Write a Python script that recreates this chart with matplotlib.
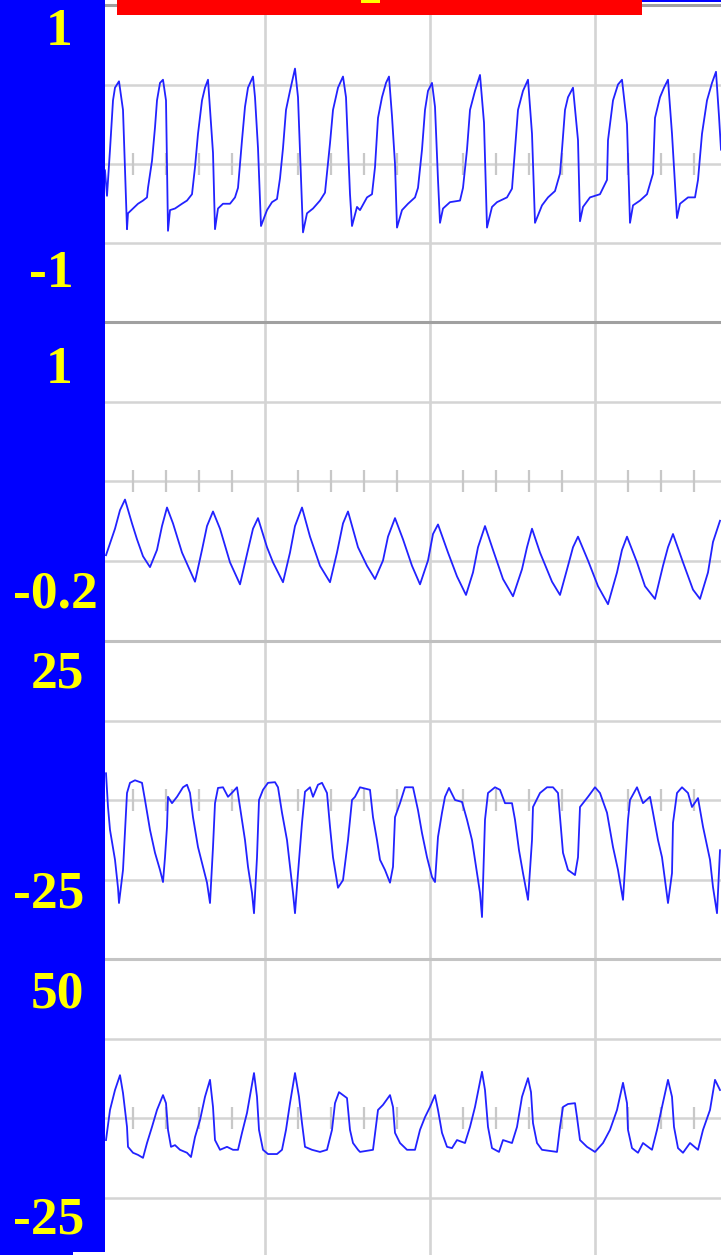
import matplotlib

matplotlib.use("Agg")

import matplotlib.pyplot as plt
from matplotlib.lines import Line2D
from matplotlib.patches import Rectangle


OUTPUT_PATH = "out.png"

FIG_W = 721
FIG_H = 1255

# time axis is in samples: major grid every 165, minor ticks every 33
T_LIMITS = (5, 621)
T_MAJOR = [165, 330, 495]

PANEL_LIMITS = [(-1, 1), (-0.2, 1), (-25, 25), (-25, 50)]
TOP_LABELS = ["1", "1", "25", "50"]
BOTTOM_LABELS = ["-1", "-0.2", "-25", "-25"]

# channel 1
T1 = [5, 7, 10, 13, 15, 19, 23, 27,
      28, 33, 38, 43, 47, 48, 52, 55, 57, 60, 63, 66, 68,
      70, 75, 82, 87, 92, 95, 98, 102, 105, 108, 113, 115,
      118, 123, 130, 135, 138, 142, 145, 148, 153, 155, 158, 161,
      167, 172, 177, 180, 183, 186, 190, 195, 198, 203,
      207, 213, 220, 225, 230, 233, 238, 243, 246, 250, 252,
      257, 260, 267, 272, 275, 278, 282, 286, 289, 292, 295, 297,
      302, 308, 315, 318, 322, 325, 328, 332, 335, 338, 340,
      343, 350, 360, 363, 367, 370, 375, 380, 384, 387,
      392, 397, 407, 412, 415, 418, 423, 428, 432, 435,
      442, 448, 455, 460, 462, 465, 468, 473, 478, 480,
      483, 490, 500, 507, 508, 513, 518, 522, 527, 530,
      533, 540, 547, 553, 555, 560, 564, 568, 572, 577,
      580, 588, 595, 598, 602, 607, 612, 616, 619, 621]
V1 = [-0.04, -0.20, 0.09, 0.40, 0.48, 0.52, 0.34, -0.41,
      -0.31, -0.28, -0.25, -0.23, -0.21, -0.15, 0.02, 0.23, 0.40, 0.51, 0.53, 0.40, -0.42,
      -0.29, -0.28, -0.25, -0.23, -0.19, -0.02, 0.19, 0.40, 0.48, 0.53, 0.07, -0.41,
      -0.28, -0.25, -0.25, -0.21, -0.15, 0.15, 0.36, 0.48, 0.55, 0.42, 0.10, -0.39,
      -0.29, -0.24, -0.22, -0.09, 0.10, 0.34, 0.46, 0.60, 0.42, -0.43,
      -0.31, -0.28, -0.23, -0.18, 0.13, 0.34, 0.48, 0.55, 0.42, -0.19, -0.39,
      -0.27, -0.29, -0.21, -0.19, -0.02, 0.29, 0.42, 0.51, 0.55, 0.30, 0.0, -0.40,
      -0.29, -0.25, -0.21, -0.15, 0.09, 0.34, 0.46, 0.51, 0.36, -0.10, -0.37,
      -0.28, -0.24, -0.23, -0.15, 0.09, 0.34, 0.46, 0.56, 0.26, -0.40,
      -0.27, -0.24, -0.21, -0.155, 0.09, 0.34, 0.46, 0.53, 0.19, -0.37,
      -0.26, -0.21, -0.17, -0.06, 0.09, 0.34, 0.42, 0.48, 0.15, -0.36,
      -0.27, -0.21, -0.19, -0.10, 0.15, 0.40, 0.50, 0.53, 0.25, -0.37,
      -0.26, -0.23, -0.19, -0.06, 0.29, 0.42, 0.48, 0.53, 0.19, -0.34,
      -0.25, -0.21, -0.21, -0.10, 0.19, 0.40, 0.51, 0.58, 0.30, 0.09]

# channel 2
T2 = [6, 15, 20, 25, 32, 37, 43, 50,
      57, 62, 67, 73, 82, 95,
      102, 107, 113, 120, 130, 140,
      148, 153, 158, 167, 173, 183,
      190, 195, 202, 210, 220, 230,
      237, 243, 248, 258, 267, 275,
      283, 288, 295, 303, 312, 320,
      328, 333, 338, 348, 357, 366,
      373, 378, 385, 393, 403, 413,
      422, 427, 432, 440, 452, 460,
      468, 473, 478, 488, 498, 508,
      517, 522, 527, 537, 545, 555,
      563, 568, 573, 583, 593, 600,
      608, 613, 620]
V2 = [0.12, 0.22, 0.29, 0.33, 0.24, 0.18, 0.116, 0.075,
      0.14, 0.23, 0.30, 0.24, 0.13, 0.02,
      0.14, 0.23, 0.285, 0.22, 0.093, 0.01,
      0.14, 0.22, 0.26, 0.15, 0.093, 0.018,
      0.13, 0.23, 0.30, 0.19, 0.08, 0.018,
      0.13, 0.24, 0.285, 0.15, 0.08, 0.03,
      0.10, 0.19, 0.26, 0.18, 0.08, 0.01,
      0.10, 0.20, 0.236, 0.13, 0.04, -0.03,
      0.055, 0.15, 0.23, 0.14, 0.03, -0.035,
      0.067, 0.15, 0.22, 0.13, 0.02, -0.03,
      0.08, 0.15, 0.19, 0.10, 0.003, -0.065,
      0.055, 0.14, 0.19, 0.093, 0.003, -0.045,
      0.08, 0.15, 0.20, 0.093, -0.01, -0.045,
      0.055, 0.17, 0.25]

# channel 3
T3 = [6, 8, 10, 15, 18, 19,
      23, 27, 30, 35, 42,
      45, 50, 55, 60, 63,
      65, 67, 68, 72, 77, 83, 87, 90,
      93, 98, 103, 107, 110,
      113, 115, 118, 123, 128, 133, 137,
      140, 145, 148, 152, 154,
      157, 159, 163, 168, 175, 178,
      182, 187, 190, 193, 195,
      198, 202, 205, 210, 213, 218, 222, 227,
      230, 233, 238, 243,
      248, 252, 255, 260,
      270, 273, 277, 280, 285, 290, 293,
      295, 300, 305, 313,
      318, 322, 327, 332, 335,
      338, 342, 345, 349, 355, 362,
      367, 372, 376, 380, 382,
      385, 388, 395, 400, 405, 412,
      415, 419, 423, 428,
      432, 433, 440, 447, 453, 458,
      460, 463, 468, 475, 478,
      480, 483, 488, 495, 500,
      507, 513, 518, 523,
      528, 530, 537, 543, 550, 553,
      558, 562, 565, 568, 572,
      573, 577, 582, 588, 592, 598,
      603, 610, 613, 617, 620]
V3 = [4.2, -1.1, -4.7, -9.4, -13.8, -16.2,
      -11.0, 1.1, 2.7, 3.1, 2.7,
      0.0, -4.7, -8.3, -11.0, -12.9,
      -9.0, -4.2, 0.5, -0.5, 0.5, 2.0, 2.4, 1.1,
      -2.7, -7.4, -10.5, -13.0, -16.2,
      -7.4, -0.5, 1.9, 2.0, 0.5, 1.3, 2.0,
      -1.1, -6.3, -10.5, -14.6, -17.8,
      -9.0, 0.0, 1.6, 2.7, 2.8, 2.0,
      -2.0, -6.3, -10.5, -14.6, -17.8,
      -11.5, -3.6, 1.3, 2.0, 0.5, 2.4, 2.7, 1.1,
      -4.2, -9.0, -13.8, -12.6,
      -6.3, 0.0, 0.5, 2.0,
      1.6, -2.7, -6.3, -9.4, -11.0, -13.0, -10.5,
      -2.7, -0.5, 2.0, 2.0,
      -1.6, -5.2, -9.0, -12.1, -12.9,
      -5.8, -2.0, 0.5, 1.9, 0.0, -0.3,
      -3.1, -6.3, -10.5, -14.6, -18.4,
      -3.1, 1.1, 2.0, 1.6, -0.5, -0.5,
      -3.1, -7.9, -11.5, -15.7,
      -6.3, -1.1, 1.1, 2.0, 2.0, 1.1,
      -2.7, -8.3, -11.0, -11.8, -9.0,
      -1.1, -0.5, 0.5, 2.0, 1.1,
      -2.0, -7.4, -11.0, -15.7,
      -3.1, 0.0, 2.0, -0.5, 0.5, -2.0,
      -6.3, -9.0, -12.6, -16.2, -11.5,
      -3.6, 1.1, 2.0, 1.1, -1.1, 0.3,
      -4.2, -9.4, -13.7, -17.8, -7.9]

# channel 4
T4 = [6, 10, 15, 20,
      23, 27, 28, 33, 38, 43,
      47, 52, 57, 63, 66,
      68, 71, 75, 80, 87, 91,
      95, 100, 105, 110, 113,
      115, 120, 127, 133, 138,
      142, 147, 151, 154, 157,
      159, 163, 168, 177, 182,
      186, 190, 195, 199,
      202, 205, 212, 220, 227,
      232, 235, 239, 247,
      250, 253, 258, 260, 273,
      278, 283, 290, 293,
      295, 300, 307, 315,
      320, 325, 330, 335, 338,
      342, 347, 352, 357, 365,
      370, 375, 382, 385,
      388, 392, 399, 403, 412,
      417, 422, 428, 431,
      433, 437, 442, 457,
      460, 463, 468, 475, 477,
      480, 487, 495, 503,
      510, 517, 523, 527,
      528, 532, 538, 543, 552,
      557, 562, 568, 572,
      574, 578, 583, 590, 598,
      603, 610, 615, 620]
V4 = [7.3, 14.4, 19.1, 22.6,
      18.4, 10.4, 5.7, 4.3, 3.8, 3.1,
      6.6, 10.4, 14.4, 17.9, 16.0,
      9.7, 5.7, 6.1, 5.0, 4.3, 3.3,
      8.0, 12.0, 17.5, 21.5, 15.1,
      7.3, 5.0, 5.7, 5.0, 5.0,
      9.0, 13.7, 19.1, 23.1, 17.5,
      9.7, 5.0, 4.0, 4.0, 5.0,
      9.7, 16.0, 23.1, 17.5,
      11.3, 5.7, 5.0, 4.5, 5.0,
      9.7, 16.0, 18.6, 17.2,
      9.7, 6.6, 5.0, 4.5, 5.0,
      14.4, 15.6, 17.9, 15.1,
      9.0, 6.6, 5.0, 5.0,
      9.7, 12.7, 15.1, 17.9, 14.4,
      9.0, 5.7, 5.4, 7.3, 6.6,
      10.4, 15.1, 23.4, 19.1,
      10.4, 5.4, 4.5, 7.3, 6.6,
      10.4, 17.5, 21.9, 18.6,
      11.3, 6.6, 5.0, 4.5,
      10.4, 15.1, 15.8, 16.0, 12.7,
      7.3, 5.7, 4.5, 6.6,
      9.7, 14.4, 20.8, 16.0,
      9.7, 5.4, 4.3, 6.6, 5.0,
      9.7, 15.1, 21.5, 17.5,
      10.4, 5.4, 4.3, 6.6, 5.0,
      9.7, 14.4, 21.5, 19.1]

CHANNELS = [(T1, V1), (T2, V2), (T3, V3), (T4, V4)]

# panel edges in pixels from the top of the figure
PANEL_TOPS = [5, 322, 641, 959]
PANEL_HEIGHT = 318
PLOT_LEFT = 105

# label centres and baselines, pixels
TOP_LABEL_POS = [(59, 45), (59, 383), (57, 687), (57, 1008)]
BOTTOM_LABEL_POS = [(51, 287), (55, 607), (49, 907), (49, 1233)]

SIGNAL_COLOR = "#2222ff"
GRID_COLOR = "#d4d4d4"
TICK_COLOR = "#c8c8c8"


def px_rect(fig, x0, y0, x1, y1, color, zorder=5):
    rect = Rectangle(
        (x0 / FIG_W, 1 - y1 / FIG_H),
        (x1 - x0) / FIG_W,
        (y1 - y0) / FIG_H,
        transform=fig.transFigure,
        facecolor=color,
        edgecolor="none",
        zorder=zorder,
    )
    fig.add_artist(rect)


def px_hline(fig, y, x0, x1, color, width):
    line = Line2D(
        [x0 / FIG_W, x1 / FIG_W],
        [1 - y / FIG_H, 1 - y / FIG_H],
        transform=fig.transFigure,
        color=color,
        linewidth=width,
        zorder=4,
    )
    fig.add_artist(line)


def main():
    fig = plt.figure(figsize=(FIG_W / 100, FIG_H / 100), dpi=100)
    fig.patch.set_facecolor("white")

    minor = [k * 33 for k in range(1, 19) if k % 5]

    for i, (t, v) in enumerate(CHANNELS):
        top = PANEL_TOPS[i]
        ax = fig.add_axes([
            PLOT_LEFT / FIG_W,
            1 - (top + PANEL_HEIGHT) / FIG_H,
            (FIG_W - PLOT_LEFT) / FIG_W,
            PANEL_HEIGHT / FIG_H,
        ])
        lo, hi = PANEL_LIMITS[i]
        ax.set_xlim(*T_LIMITS)
        ax.set_ylim(lo, hi)
        ax.axis("off")

        for k in (1, 2, 3):
            ax.axhline(lo + (hi - lo) * k / 4, color=GRID_COLOR,
                       linewidth=1.8, zorder=1)
        for x in T_MAJOR:
            ax.axvline(x, color=GRID_COLOR, linewidth=1.9, zorder=1)

        mid = (lo + hi) / 2
        ax.plot(minor, [mid] * len(minor), linestyle="none", marker="|",
                markersize=16, markeredgewidth=1.6, color=TICK_COLOR,
                zorder=1.5)

        ax.plot(t, v, color=SIGNAL_COLOR, linewidth=1.3, zorder=3,
                solid_joinstyle="round")

    # panel borders
    px_hline(fig, 5, PLOT_LEFT, FIG_W, "#a0a0a0", 2.2)
    px_hline(fig, 322, PLOT_LEFT, FIG_W, "#a0a0a0", 2.2)
    px_hline(fig, 641, PLOT_LEFT, FIG_W, "#c0c0c0", 2.2)
    px_hline(fig, 959, PLOT_LEFT, FIG_W, "#c4c4c4", 2.2)

    # label strip and header bar
    px_rect(fig, 0, 0, PLOT_LEFT, FIG_H, "#0000ff")
    px_rect(fig, 73, 1252, PLOT_LEFT, FIG_H, "white", zorder=6)
    px_rect(fig, 641, 0, FIG_W, 2, "#0000ff")
    px_rect(fig, 117, 0, 642, 15, "#ff0000")
    px_rect(fig, 361, 0, 380, 3, "#ffff00", zorder=6)

    label_style = dict(
        color="#ffff00",
        fontsize=38.5,
        fontweight="bold",
        family=["Liberation Serif", "DejaVu Serif"],
        ha="center",
        va="baseline",
        zorder=7,
    )
    for text, (x, y) in zip(TOP_LABELS, TOP_LABEL_POS):
        fig.text(x / FIG_W, 1 - y / FIG_H, text, **label_style)
    for text, (x, y) in zip(BOTTOM_LABELS, BOTTOM_LABEL_POS):
        fig.text(x / FIG_W, 1 - y / FIG_H, text, **label_style)

    fig.savefig(OUTPUT_PATH, dpi=100)
    plt.close(fig)


if __name__ == "__main__":
    main()
